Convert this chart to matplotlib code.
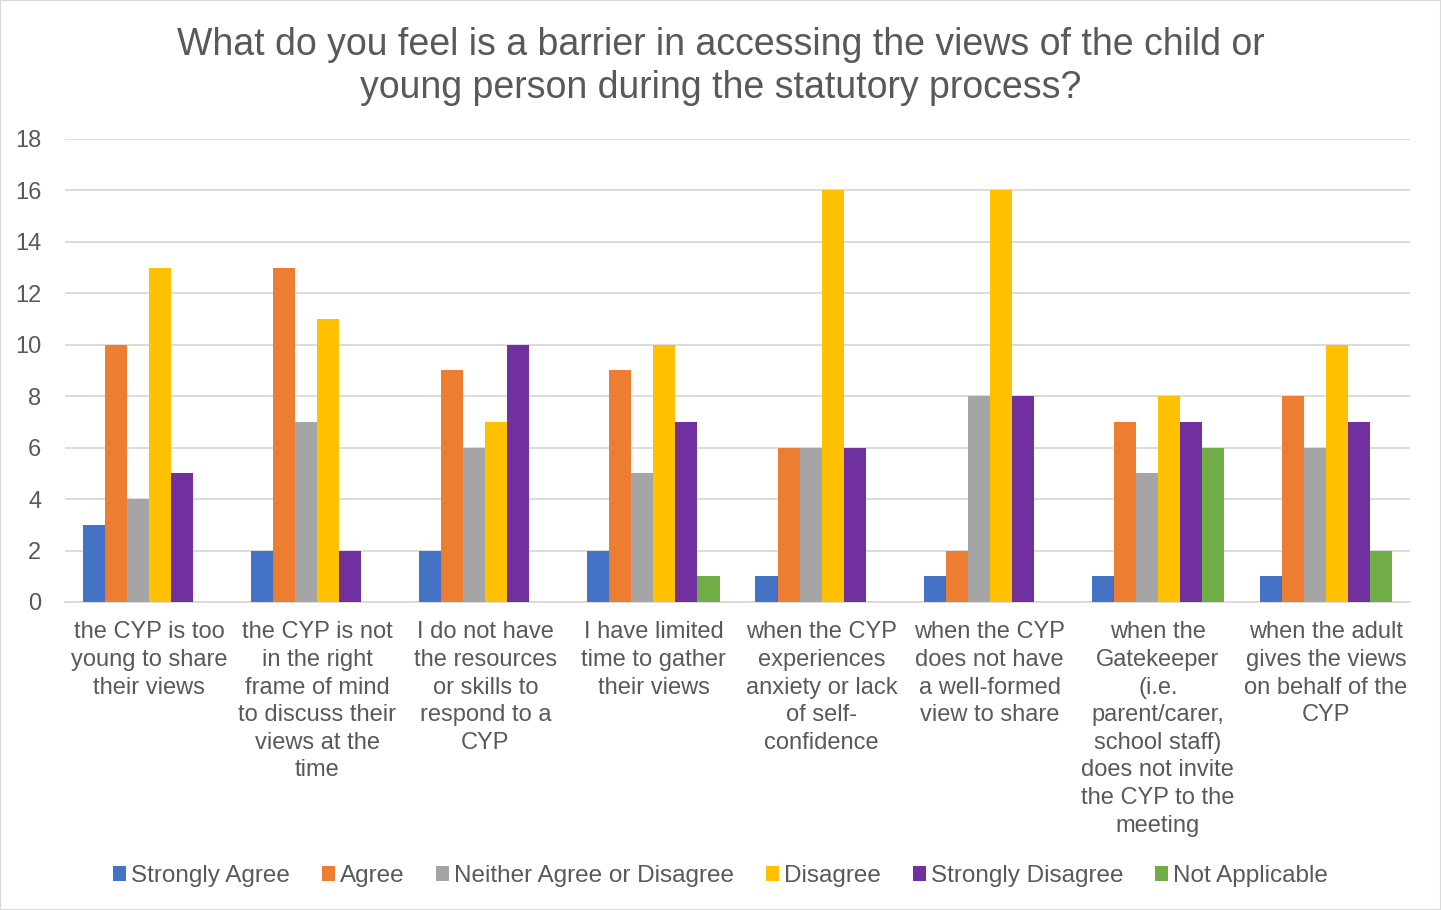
import numpy as np
import matplotlib.pyplot as plt

plt.rcParams['font.family'] = ['Liberation Sans', 'DejaVu Sans']

categories = [
    "the CYP is too\nyoung to share\ntheir views",
    "the CYP is not\nin the right\nframe of mind\nto discuss their\nviews at the\ntime",
    "I do not have\nthe resources\nor skills to\nrespond to a\nCYP",
    "I have limited\ntime to gather\ntheir views",
    "when the CYP\nexperiences\nanxiety or lack\nof self-\nconfidence",
    "when the CYP\ndoes not have\na well-formed\nview to share",
    "when the\nGatekeeper\n(i.e.\nparent/carer,\nschool staff)\ndoes not invite\nthe CYP to the\nmeeting",
    "when the adult\ngives the views\non behalf of the\nCYP",
]
series_names = ["Strongly Agree", "Agree", "Neither Agree or Disagree",
                "Disagree", "Strongly Disagree", "Not Applicable"]
strongly_agree = [3, 2, 2, 2, 1, 1, 1, 1]
agree = [10, 13, 9, 9, 6, 2, 7, 8]
neither = [4, 7, 6, 5, 6, 8, 5, 6]
disagree = [13, 11, 7, 10, 16, 16, 8, 10]
strongly_disagree = [5, 2, 10, 7, 6, 8, 7, 7]
not_applicable = [0, 0, 0, 1, 0, 0, 6, 2]
colors = ["#4472C4", "#ED7D31", "#A5A5A5", "#FFC000", "#7030A0", "#70AD47"]

values = [strongly_agree, agree, neither, disagree, strongly_disagree, not_applicable]
text_col = "#595959"

fig = plt.figure(figsize=(14.41, 9.10), dpi=100)
ax = fig.add_axes([0.0451, 0.3385, 0.9334, 0.5088])

x = np.arange(len(categories))
width = 0.131
for i, (name, vals) in enumerate(zip(series_names, values)):
    offset = (i - 2.5) * width
    ax.bar(x + offset, vals, width, color=colors[i], label=name, zorder=3)

ax.set_xlim(-0.5, len(categories) - 0.5)
ax.set_ylim(0, 18)
ax.set_yticks(range(0, 19, 2))
ax.yaxis.grid(True, color="#D9D9D9", linewidth=1.3, zorder=0)
ax.set_axisbelow(True)
for s in ["top", "right", "left"]:
    ax.spines[s].set_visible(False)
ax.spines["bottom"].set_color("#D9D9D9")
ax.spines["bottom"].set_linewidth(1.3)
ax.tick_params(axis="both", length=0, labelsize=17, colors=text_col)
ax.tick_params(axis="x", pad=14)
ax.tick_params(axis="y", pad=17)
ax.set_xticks(x)
ax.set_xticklabels(categories, linespacing=1.33, va="top")

fig.suptitle("What do you feel is a barrier in accessing the views of the child or\n"
             "young person during the statutory process?",
             fontsize=27, color=text_col, y=0.97, linespacing=1.24)

ax.legend(loc="center", bbox_to_anchor=(0.5, 0.0375), bbox_transform=fig.transFigure,
          ncol=6, frameon=False, fontsize=17.5, labelcolor=text_col,
          handlelength=0.55, handleheight=0.55, handletextpad=0.2, columnspacing=1.3)

fig.patches.append(plt.Rectangle((0, 0), 1, 1, transform=fig.transFigure,
                                 fill=False, edgecolor="#D9D9D9", linewidth=1.5))

plt.savefig("out.png", dpi=100)
